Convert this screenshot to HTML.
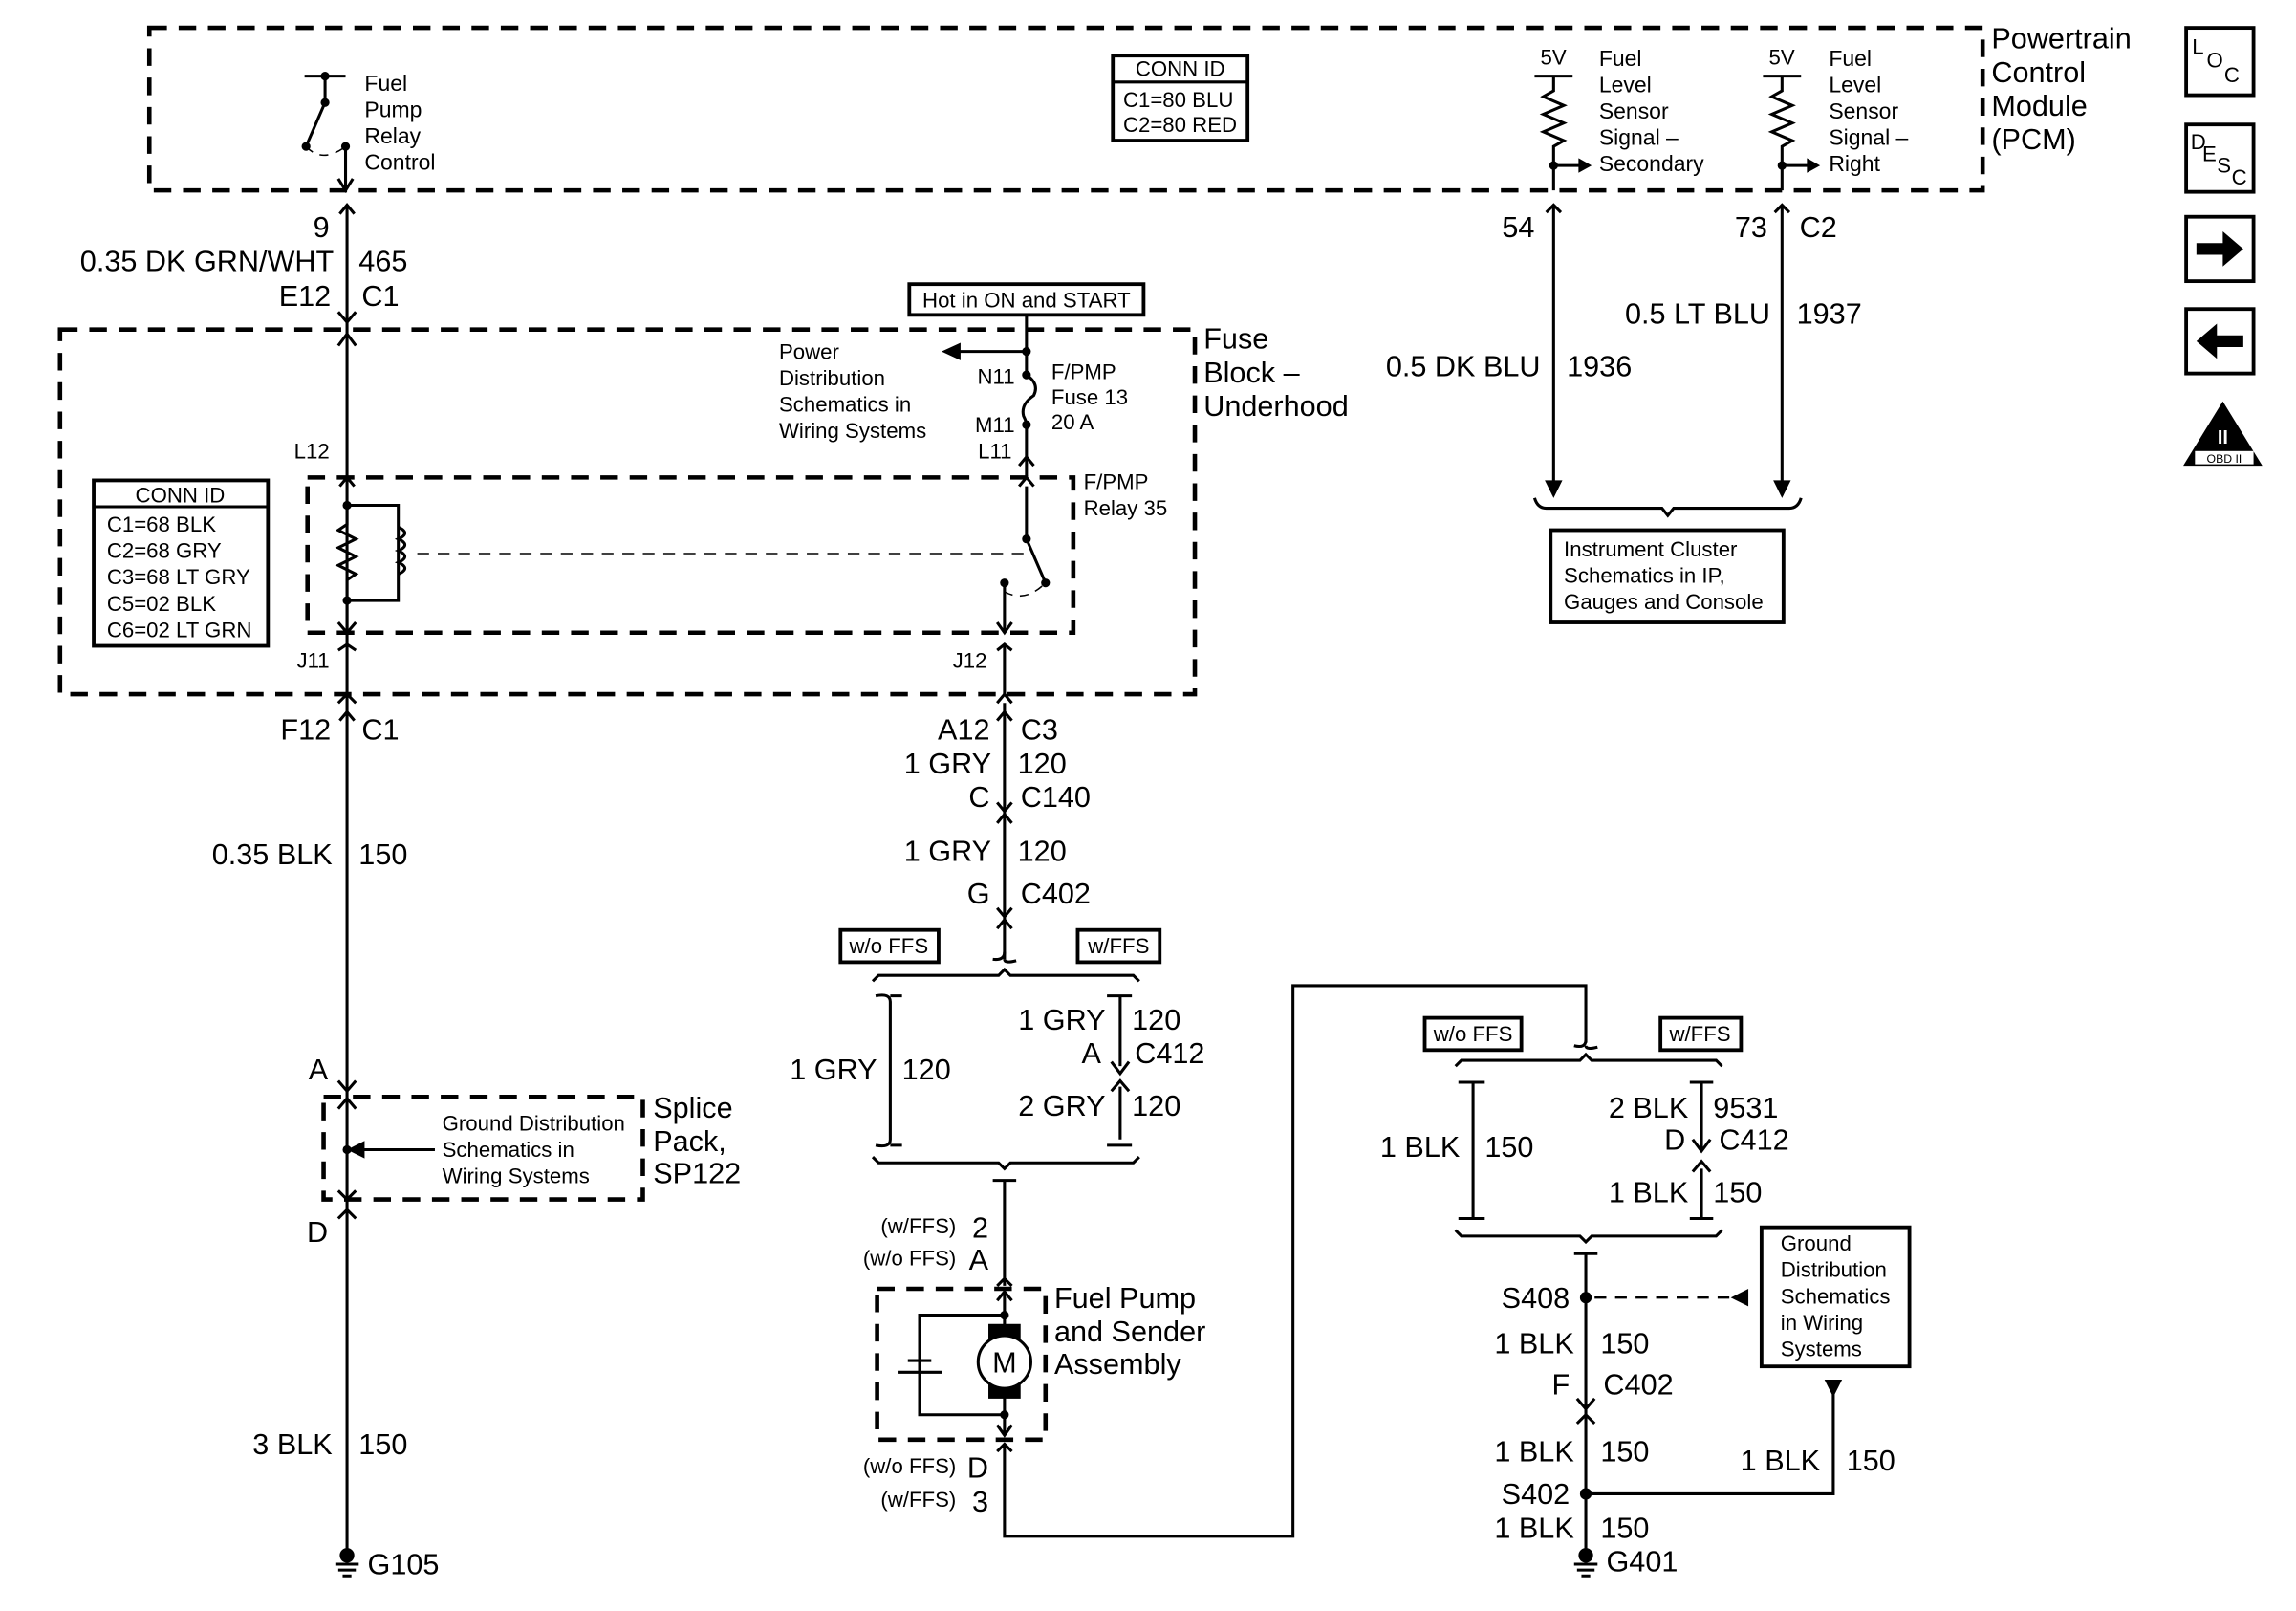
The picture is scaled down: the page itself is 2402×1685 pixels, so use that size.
<!DOCTYPE html>
<html><head><meta charset="utf-8"><style>
html,body{margin:0;padding:0;background:#fff}
svg{display:block}
text{font-family:"Liberation Sans",Arial,sans-serif;fill:#000}
.L{font-size:20px}.M{font-size:15px}.S{font-size:14.5px}
.w{stroke:#000;stroke-width:2;fill:none}
.d{stroke:#000;stroke-width:3;fill:none;stroke-dasharray:12 8}
.dt{stroke:#000;stroke-width:1;fill:none;stroke-dasharray:6 5}
.b{stroke:#000;stroke-width:2.5;fill:#fff}
</style></head><body>
<svg width="2402" height="1685" viewBox="0 0 1568 1100" preserveAspectRatio="none" xmlns="http://www.w3.org/2000/svg">
<rect width="1568" height="1100" fill="#fff"/>
<rect x="102" y="19" width="1252" height="111" class="d"/>
<text x="1360" y="33" class="L">Powertrain</text>
<text x="1360" y="56" class="L">Control</text>
<text x="1360" y="79" class="L">Module</text>
<text x="1360" y="102" class="L">(PCM)</text>
<path class="w" d="M208 52H236M222 52V70L209 100M236 100V130"/>
<path class="w" d="M231 122L236 130L241 122"/>
<path class="dt" d="M209 100Q220 112 236 100"/>
<circle cx="222" cy="52" r="3"/><circle cx="222" cy="70" r="3"/><circle cx="209" cy="100" r="3"/><circle cx="236" cy="100" r="3"/>
<text x="249" y="62" class="M">Fuel</text><text x="249" y="80" class="M">Pump</text><text x="249" y="98" class="M">Relay</text><text x="249" y="116" class="M">Control</text>
<rect x="760" y="38" width="92" height="58" class="b"/>
<line x1="760" y1="56" x2="852" y2="56" class="w"/>
<text x="806" y="52" class="S" text-anchor="middle">CONN ID</text>
<text x="767" y="73" class="S">C1=80 BLU</text><text x="767" y="90" class="S">C2=80 RED</text>
<g>
<path class="w" d="M1048 52H1074M1061 52V62L1054 66L1068 72L1054 78L1068 84L1054 90L1068 96L1061 100V130M1061 113H1080"/>
<path d="M1078 108L1087 113L1078 118Z"/><circle cx="1061" cy="113" r="3"/>
<text x="1052" y="44" class="S">5V</text>
<text x="1092" y="45" class="M">Fuel</text><text x="1092" y="63" class="M">Level</text><text x="1092" y="81" class="M">Sensor</text><text x="1092" y="99" class="M">Signal –</text><text x="1092" y="117" class="M">Secondary</text>
<path class="w" d="M1204 52H1230M1217 52V62L1210 66L1224 72L1210 78L1224 84L1210 90L1224 96L1217 100V130M1217 113H1236"/>
<path d="M1234 108L1243 113L1234 118Z"/><circle cx="1217" cy="113" r="3"/>
<text x="1208" y="44" class="S">5V</text>
<text x="1249" y="45" class="M">Fuel</text><text x="1249" y="63" class="M">Level</text><text x="1249" y="81" class="M">Sensor</text><text x="1249" y="99" class="M">Signal –</text><text x="1249" y="117" class="M">Right</text>
</g>
<path class="w" d="M1061 140V338M1217 140V338M1056 145L1061 140L1066 145M1212 145L1217 140L1222 145"/>
<path d="M1055 328L1061 340L1067 328Z"/><path d="M1211 328L1217 340L1223 328Z"/>
<text x="1048" y="162" class="L" text-anchor="end">54</text>
<text x="1207" y="162" class="L" text-anchor="end">73</text><text x="1229" y="162" class="L">C2</text>
<text x="1209" y="221" class="L" text-anchor="end">0.5 LT BLU</text><text x="1227" y="221" class="L">1937</text>
<text x="1052" y="257" class="L" text-anchor="end">0.5 DK BLU</text><text x="1070" y="257" class="L">1936</text>
<path class="w" d="M1048 340Q1050 347 1056 347H1135L1139 352L1143 347H1222Q1228 347 1230 340"/>
<rect x="1059" y="362" width="159" height="63" class="b"/>
<text x="1068" y="380" class="S">Instrument Cluster</text><text x="1068" y="398" class="S">Schematics in IP,</text><text x="1068" y="416" class="S">Gauges and Console</text>
<path class="w" d="M237 140V1060"/>
<path class="w" d="M232 146L237 140L242 146M231 213L237 220L243 213M231 236L237 228L243 236"/>
<text x="225" y="162" class="L" text-anchor="end">9</text>
<text x="228" y="185" class="L" text-anchor="end">0.35 DK GRN/WHT</text><text x="245" y="185" class="L">465</text>
<text x="226" y="209" class="L" text-anchor="end">E12</text><text x="247" y="209" class="L">C1</text>
<rect x="41" y="225" width="775" height="249" class="d"/>
<text x="822" y="238" class="L">Fuse</text><text x="822" y="261" class="L">Block –</text><text x="822" y="284" class="L">Underhood</text>
<rect x="621" y="194" width="160" height="21" class="b"/>
<text x="701" y="210" class="S" text-anchor="middle">Hot in ON and START</text>
<path class="w" d="M701 215V256M701 240H655M701 256Q710 262 706 270Q697 276 699 284Q701 288 701 290V325M696 318L701 312L706 318"/>
<path d="M656 234L643 240L656 246Z"/>
<circle cx="701" cy="240" r="3"/><circle cx="701" cy="256" r="3"/><circle cx="701" cy="290" r="3"/>
<text x="532" y="245" class="S">Power</text><text x="532" y="263" class="S">Distribution</text><text x="532" y="281" class="S">Schematics in</text><text x="532" y="299" class="S">Wiring Systems</text>
<text x="693" y="262" class="S" text-anchor="end">N11</text><text x="693" y="295" class="S" text-anchor="end">M11</text><text x="691" y="313" class="S" text-anchor="end">L11</text>
<text x="718" y="259" class="S">F/PMP</text><text x="718" y="276" class="S">Fuse 13</text><text x="718" y="293" class="S">20 A</text>
<text x="225" y="313" class="S" text-anchor="end">L12</text>
<rect x="210" y="326" width="523" height="106" class="d"/>
<text x="740" y="334" class="S">F/PMP</text><text x="740" y="352" class="S">Relay 35</text>
<path class="w" d="M232 332L237 326L242 332M237 345H272V410H237M237 345V358L231 362L243 368L231 374L243 380L231 386L243 392L237 396V432"/>
<path class="w" d="M272 360Q281 364 272 368Q281 372 272 376Q281 380 272 384Q281 388 272 392"/>
<circle cx="237" cy="345" r="3"/><circle cx="237" cy="410" r="3"/>
<line x1="285" y1="378" x2="700" y2="378" stroke="#000" stroke-width="1" stroke-dasharray="8 6"/>
<path class="w" d="M701 332V368L714 398M696 332L701 326L706 332M686 398V432M681 425L686 432L691 425"/>
<circle cx="701" cy="368" r="3"/><circle cx="714" cy="398" r="3"/><circle cx="686" cy="398" r="3"/>
<path class="dt" d="M686 404Q700 412 714 398"/>
<path class="w" d="M231 425L237 432L243 425M686 440V474M681 444L686 440L691 444M231 444L237 440L243 444"/>
<text x="225" y="456" class="S" text-anchor="end">J11</text><text x="674" y="456" class="S" text-anchor="end">J12</text>
<rect x="64" y="328" width="119" height="113" class="b"/>
<line x1="64" y1="346" x2="183" y2="346" class="w"/>
<text x="123" y="343" class="S" text-anchor="middle">CONN ID</text>
<text x="73" y="363" class="S">C1=68 BLK</text><text x="73" y="381" class="S">C2=68 GRY</text><text x="73" y="399" class="S">C3=68 LT GRY</text><text x="73" y="417" class="S">C5=02 BLK</text><text x="73" y="435" class="S">C6=02 LT GRN</text>
<path class="w" d="M231 480L237 474M243 480L237 474M232 492L237 486L242 492"/>
<text x="226" y="505" class="L" text-anchor="end">F12</text><text x="247" y="505" class="L">C1</text>
<text x="227" y="590" class="L" text-anchor="end">0.35 BLK</text><text x="245" y="590" class="L">150</text>
<text x="224" y="737" class="L" text-anchor="end">A</text>
<path class="w" d="M231 738L237 745L243 738M231 757L237 750L243 757"/>
<rect x="221" y="749" width="218" height="70" class="d"/>
<path class="w" d="M237 785H297"/><path d="M249 779L237 785L249 791Z"/><circle cx="237" cy="785" r="3"/>
<text x="302" y="772" class="S">Ground Distribution</text><text x="302" y="790" class="S">Schematics in</text><text x="302" y="808" class="S">Wiring Systems</text>
<text x="446" y="763" class="L">Splice</text><text x="446" y="786" class="L">Pack,</text><text x="446" y="808" class="L">SP122</text>
<path class="w" d="M231 813L237 819L243 813M231 832L237 826L243 832"/>
<text x="224" y="848" class="L" text-anchor="end">D</text>
<text x="227" y="993" class="L" text-anchor="end">3 BLK</text><text x="245" y="993" class="L">150</text>
<circle cx="237" cy="1062" r="5"/><path class="w" d="M229 1068H245M231 1072H243M234 1076H240"/>
<text x="251" y="1075" class="L">G105</text>
<path class="w" d="M686 480V655M681 480L686 474L691 480M681 492L686 486L691 492M681 548L686 554L691 548M681 562L686 556L691 562M681 620L686 626L691 620M681 634L686 628L691 634"/>
<text x="676" y="505" class="L" text-anchor="end">A12</text><text x="697" y="505" class="L">C3</text>
<text x="677" y="528" class="L" text-anchor="end">1 GRY</text><text x="695" y="528" class="L">120</text>
<text x="676" y="551" class="L" text-anchor="end">C</text><text x="697" y="551" class="L">C140</text>
<text x="677" y="588" class="L" text-anchor="end">1 GRY</text><text x="695" y="588" class="L">120</text>
<text x="676" y="617" class="L" text-anchor="end">G</text><text x="697" y="617" class="L">C402</text>
<path class="w" d="M678 655Q686 656 686 650M686 655Q686 658 694 656"/>
<rect x="574" y="635" width="67" height="22" class="b"/><text x="607" y="651" class="S" text-anchor="middle">w/o FFS</text>
<rect x="736" y="635" width="56" height="22" class="b"/><text x="764" y="651" class="S" text-anchor="middle">w/FFS</text>
<path class="w" d="M596 670L600 666H682L686 662L690 666H774L778 670"/>
<path class="w" d="M598 680Q608 678 608 684V778Q608 784 598 782M608 680H616M608 782H616"/>
<path class="w" d="M756 680H765V728M765 680H773M765 742V778M756 782H765H773"/>
<path class="w" d="M759 725L765 733L771 725M759 745L765 738L771 745"/>
<text x="599" y="737" class="L" text-anchor="end">1 GRY</text><text x="616" y="737" class="L">120</text>
<text x="755" y="703" class="L" text-anchor="end">1 GRY</text><text x="773" y="703" class="L">120</text>
<text x="752" y="726" class="L" text-anchor="end">A</text><text x="775" y="726" class="L">C412</text>
<text x="755" y="762" class="L" text-anchor="end">2 GRY</text><text x="773" y="762" class="L">120</text>
<path class="w" d="M596 790L600 794H682L686 798L690 794H774L778 790"/>
<path class="w" d="M678 806H686H694M686 806V878M681 878L686 873L691 878"/>
<text x="675" y="845" class="L" text-anchor="end">2</text><text x="653" y="842" class="S" text-anchor="end">(w/FFS)</text>
<text x="675" y="867" class="L" text-anchor="end">A</text><text x="653" y="864" class="S" text-anchor="end">(w/o FFS)</text>
<rect x="599" y="880" width="115" height="103" class="d"/>
<path class="w" d="M686 882V908M681 888L686 882L691 888M686 953V980M681 973L686 980L691 973M686 898H628V966H686M620 929H636M613 937H643"/>
<circle cx="686" cy="898" r="3"/><circle cx="686" cy="966" r="3"/>
<rect x="675" y="904" width="22" height="10"/><rect x="675" y="945" width="22" height="10"/>
<circle cx="686" cy="930" r="18" fill="#fff" stroke="#000" stroke-width="2"/>
<text x="686" y="937" class="L" text-anchor="middle">M</text>
<text x="720" y="893" class="L">Fuel Pump</text><text x="720" y="916" class="L">and Sender</text><text x="720" y="938" class="L">Assembly</text>
<path class="w" d="M681 991L686 986L691 991M686 986V1049H883V673H1083V712"/>
<text x="675" y="1009" class="L" text-anchor="end">D</text><text x="653" y="1006" class="S" text-anchor="end">(w/o FFS)</text>
<text x="675" y="1032" class="L" text-anchor="end">3</text><text x="653" y="1029" class="S" text-anchor="end">(w/FFS)</text>
<path class="w" d="M1075 714Q1083 716 1083 710M1083 714Q1083 717 1091 715"/>
<rect x="973" y="695" width="66" height="22" class="b"/><text x="1006" y="711" class="S" text-anchor="middle">w/o FFS</text>
<rect x="1134" y="695" width="55" height="22" class="b"/><text x="1161" y="711" class="S" text-anchor="middle">w/FFS</text>
<path class="w" d="M994 728L998 724H1079L1083 720L1087 724H1172L1176 728"/>
<path class="w" d="M996 739H1006H1014M1006 739V832M996 832H1006H1014"/>
<path class="w" d="M1154 739H1162V785M1162 739H1170M1162 798V832M1154 832H1170M1156 778L1162 786L1168 778M1156 800L1162 793L1168 800"/>
<text x="997" y="790" class="L" text-anchor="end">1 BLK</text><text x="1014" y="790" class="L">150</text>
<text x="1153" y="763" class="L" text-anchor="end">2 BLK</text><text x="1170" y="763" class="L">9531</text>
<text x="1151" y="785" class="L" text-anchor="end">D</text><text x="1174" y="785" class="L">C412</text>
<text x="1153" y="821" class="L" text-anchor="end">1 BLK</text><text x="1170" y="821" class="L">150</text>
<path class="w" d="M994 840L998 844H1079L1083 848L1087 844H1172L1176 840"/>
<path class="w" d="M1075 856H1091M1083 856V1062M1077 955L1083 962L1089 955M1077 972L1083 966L1089 972M1083 1020H1252V952"/>
<line x1="1089" y1="886" x2="1182" y2="886" stroke="#000" stroke-width="1.5" stroke-dasharray="8 6"/>
<path d="M1194 880L1182 886L1194 892Z"/>
<path d="M1246 942L1258 942L1252 954Z"/>
<circle cx="1083" cy="886" r="4"/><circle cx="1083" cy="1020" r="4"/>
<rect x="1203" y="838" width="101" height="95" class="b"/>
<text x="1216" y="854" class="S">Ground</text><text x="1216" y="872" class="S">Distribution</text><text x="1216" y="890" class="S">Schematics</text><text x="1216" y="908" class="S">in Wiring</text><text x="1216" y="926" class="S">Systems</text>
<text x="1072" y="893" class="L" text-anchor="end">S408</text>
<text x="1075" y="924" class="L" text-anchor="end">1 BLK</text><text x="1093" y="924" class="L">150</text>
<text x="1072" y="952" class="L" text-anchor="end">F</text><text x="1095" y="952" class="L">C402</text>
<text x="1075" y="998" class="L" text-anchor="end">1 BLK</text><text x="1093" y="998" class="L">150</text>
<text x="1243" y="1004" class="L" text-anchor="end">1 BLK</text><text x="1261" y="1004" class="L">150</text>
<text x="1072" y="1027" class="L" text-anchor="end">S402</text>
<text x="1075" y="1050" class="L" text-anchor="end">1 BLK</text><text x="1093" y="1050" class="L">150</text>
<circle cx="1083" cy="1062" r="5"/><path class="w" d="M1075 1068H1091M1077 1072H1089M1080 1076H1086"/>
<text x="1097" y="1073" class="L">G401</text>
<rect x="1493" y="19" width="46" height="46" class="b"/>
<text x="1497" y="37" class="S">L</text><text x="1507" y="46" class="S">O</text><text x="1519" y="56" class="S">C</text>
<rect x="1493" y="85" width="46" height="46" class="b"/>
<text x="1496" y="102" class="S">D</text><text x="1504" y="110" class="S">E</text><text x="1514" y="118" class="S">S</text><text x="1524" y="126" class="S">C</text>
<rect x="1493" y="148" width="46" height="44" class="b"/>
<path d="M1500 166H1518V158L1532 170L1518 182V174H1500Z"/>
<rect x="1493" y="211" width="46" height="44" class="b"/>
<path d="M1532 229H1514V221L1500 233L1514 245V237H1532Z"/>
<path d="M1518 274L1545 318H1491Z"/>
<rect x="1499" y="308" width="40" height="9" fill="#fff"/>
<text x="1519" y="316" font-size="8" text-anchor="middle">OBD II</text>
<text x="1518" y="303" font-size="13" text-anchor="middle" style="fill:#fff;font-weight:bold">II</text>
</svg>
</body></html>
